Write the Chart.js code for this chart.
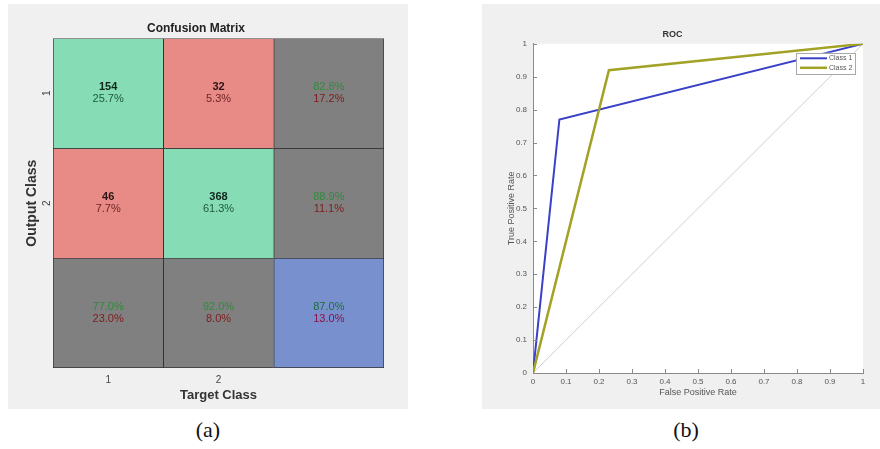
<!DOCTYPE html>
<html>
<head>
<meta charset="utf-8">
<script src="https://cdn.jsdelivr.net/npm/chart.js@4.4.1/dist/chart.umd.min.js"></script>
<style>
  html, body { margin: 0; padding: 0; background: #fff; width: 880px; height: 449px; overflow: hidden; }
  .panel { position: absolute; background: #f0f0f0; }
  #p1 { left: 8px; top: 4px; width: 400px; height: 405px; }
  #p2 { left: 482px; top: 4px; width: 398px; height: 405px; }
  canvas { display: block; }
  .cap { position: absolute; top: 417px; width: 60px; text-align: center; line-height: 26px;
         font-family: "Liberation Serif", "DejaVu Serif", serif; font-size: 22px; color: #111; }
</style>
</head>
<body>
<div class="panel" id="p1"><canvas id="cm" width="400" height="405"></canvas></div>
<div class="panel" id="p2"><canvas id="roc" width="398" height="405"></canvas></div>
<div class="cap" style="left:178px">(a)</div>
<div class="cap" style="left:656px">(b)</div>

<script>
// ---- Confusion matrix data ----
const targetClasses = ['1', '2'];          // columns
const outputClasses = ['1', '2'];          // rows
const counts = [                           // counts[output][target]
  [154, 32],
  [46, 368]
];

// ---- ROC data ----
const class1Fpr = [0, 0.08, 1];
const class1Tpr = [0, 0.77, 1];
const class2Fpr = [0, 0.23, 1];
const class2Tpr = [0, 0.92, 1];
const chanceLine = [0, 1];
const rocTicks = [0, 0.1, 0.2, 0.3, 0.4, 0.5, 0.6, 0.7, 0.8, 0.9, 1];
const rocTickLabels = ['0', '0.1', '0.2', '0.3', '0.4', '0.5', '0.6', '0.7', '0.8', '0.9', '1'];

const FONT = '"Liberation Sans", Arial, Helvetica, sans-serif';
Chart.defaults.font.family = FONT;

// ---------------- Confusion matrix ----------------
const n = targetClasses.length;
const total = counts.flat().reduce((a, b) => a + b, 0);
const rowSum = counts.map(r => r.reduce((a, b) => a + b, 0));
const colSum = targetClasses.map((_, c) => counts.reduce((a, r) => a + r[c], 0));
const correct = counts.reduce((a, r, i) => a + r[i], 0);
const pct = v => (v * 100).toFixed(1) + '%';

const GREEN = '#86dcb4', RED = '#e88b87', GREY = '#808080', BLUE = '#7890cd';

function cellColor(r, c) {
  if (r === n && c === n) return BLUE;
  if (r === n || c === n) return GREY;
  return r === c ? GREEN : RED;
}

// one stacked segment per row (output classes + summary row), each cell one unit tall
const cmDatasets = [];
for (let r = 0; r <= n; r++) {
  const colors = [];
  for (let c = 0; c <= n; c++) colors.push(cellColor(r, c));
  cmDatasets.push({
    data: new Array(n + 1).fill(1),
    backgroundColor: colors,
    borderColor: '#333333',
    borderSkipped: false,
    borderWidth: ctx => ({
      top: 1, left: 1,
      right: ctx.dataIndex === n ? 1 : 0,
      bottom: r === n ? 1 : 0
    }),
    categoryPercentage: 1,
    barPercentage: 1
  });
}

const cellText = {
  id: 'cellText',
  afterDatasetsDraw(chart) {
    const { ctx, scales: { x, y } } = chart;
    ctx.save();
    ctx.textAlign = 'center';
    ctx.textBaseline = 'middle';
    const two = (cx, cy, a, b, colA, colB, boldA) => {
      ctx.font = (boldA ? 'bold ' : '') + '11px ' + FONT;
      ctx.fillStyle = colA;
      ctx.fillText(a, cx, cy - 6);
      ctx.font = '11px ' + FONT;
      ctx.fillStyle = colB;
      ctx.fillText(b, cx, cy + 6);
    };
    for (let r = 0; r <= n; r++) {
      for (let c = 0; c <= n; c++) {
        const cx = x.getPixelForValue(c);
        const cy = y.getPixelForValue(r + 0.5);
        if (r < n && c < n) {
          const diag = r === c;
          two(cx, cy, String(counts[r][c]), pct(counts[r][c] / total),
              diag ? '#10261c' : '#2a1414', diag ? '#1f5a3c' : '#6e2424', true);
        } else {
          let ok;
          if (r < n) ok = counts[r][r] / rowSum[r];
          else if (c < n) ok = counts[c][c] / colSum[c];
          else ok = correct / total;
          const corner = r === n && c === n;
          two(cx, cy, pct(ok), pct(1 - ok),
              corner ? '#1f6e3a' : '#2f8a3a', corner ? '#8a1248' : '#7e1c1c', false);
        }
      }
    }
    ctx.restore();
  }
};

new Chart(document.getElementById('cm'), {
  type: 'bar',
  data: { labels: [...targetClasses, ''], datasets: cmDatasets },
  options: {
    responsive: false,
    animation: false,
    devicePixelRatio: 1,
    layout: { padding: { left: 0, right: 24, top: 0, bottom: 0 } },
    plugins: {
      legend: { display: false },
      tooltip: { enabled: false },
      title: {
        display: true, text: 'Confusion Matrix', color: '#222',
        font: { size: 12, weight: 'bold' }, padding: { top: 17, bottom: 3 }
      }
    },
    scales: {
      x: {
        stacked: true,
        grid: { display: false, drawTicks: false },
        border: { display: false },
        ticks: { color: '#444', font: { size: 10 }, padding: 6 },
        title: { display: true, text: 'Target Class', color: '#333',
                 font: { size: 13, weight: 'bold' }, padding: { top: 0, bottom: 6 } },
        afterFit: s => { s.height = 41; }
      },
      y: {
        stacked: true, min: 0, max: n + 1, reverse: true,
        grid: { display: false, drawTicks: false },
        border: { display: false },
        afterBuildTicks: s => { s.ticks = outputClasses.map((_, i) => ({ value: i + 0.5 })); },
        ticks: { color: '#444', font: { size: 10 }, padding: 3, minRotation: 90, maxRotation: 90,
                 crossAlign: 'center', callback: (v, i) => outputClasses[i] },
        title: { display: true, text: 'Output Class', color: '#333',
                 font: { size: 14, weight: 'bold' }, padding: { top: 16, bottom: 0 } },
        afterFit: s => { s.width = 45; }
      }
    }
  },
  plugins: [cellText]
});

// ---------------- ROC curve ----------------
const toPoints = (xs, ys) => xs.map((v, i) => ({ x: v, y: ys[i] }));

const plotBackground = {
  id: 'plotBackground',
  beforeDraw(chart) {
    const { ctx, chartArea: a } = chart;
    ctx.save();
    ctx.fillStyle = '#ffffff';
    ctx.fillRect(a.left, a.top, a.right - a.left, a.bottom - a.top);
    ctx.restore();
  }
};

const inwardTicks = {
  id: 'inwardTicks',
  afterDraw(chart) {
    const { ctx, scales: { x, y } } = chart;
    ctx.save();
    ctx.strokeStyle = '#8a8a8a';
    ctx.lineWidth = 1;
    ctx.beginPath();
    x.ticks.forEach(t => {
      const px = Math.round(x.getPixelForValue(t.value)) + 0.5;
      ctx.moveTo(px, y.bottom); ctx.lineTo(px, y.bottom - 4);
    });
    y.ticks.forEach(t => {
      const py = Math.round(y.getPixelForValue(t.value)) + 0.5;
      ctx.moveTo(x.left, py); ctx.lineTo(x.left + 4, py);
    });
    ctx.stroke();
    ctx.restore();
  }
};

const boxedLegend = {
  id: 'boxedLegend',
  afterDraw(chart) {
    const { ctx, chartArea: a } = chart;
    const items = chart.data.datasets.filter(d => d.label);
    const w = 59, rowH = 9.5, h = items.length * rowH + 2;
    const bx = a.right - 8 - w, by = a.top + 9;
    ctx.save();
    ctx.fillStyle = '#ffffff';
    ctx.fillRect(bx, by, w, h);
    ctx.strokeStyle = '#a8a8a8';
    ctx.lineWidth = 1;
    ctx.strokeRect(Math.round(bx) + 0.5, Math.round(by) + 0.5, w, h);
    ctx.font = '7px ' + FONT;
    ctx.textBaseline = 'middle';
    items.forEach((d, i) => {
      const ly = by + 5.5 + i * rowH;
      ctx.strokeStyle = d.borderColor;
      ctx.lineWidth = d.borderWidth;
      ctx.beginPath();
      ctx.moveTo(bx + 4, ly); ctx.lineTo(bx + 31, ly);
      ctx.stroke();
      ctx.fillStyle = '#555';
      ctx.fillText(d.label, bx + 33, ly);
    });
    ctx.restore();
  }
};

new Chart(document.getElementById('roc'), {
  type: 'scatter',
  data: {
    datasets: [
      { label: 'Class 1', data: toPoints(class1Fpr, class1Tpr), showLine: true,
        borderColor: '#3a40c8', borderWidth: 2, pointRadius: 0, order: 2 },
      { label: 'Class 2', data: toPoints(class2Fpr, class2Tpr), showLine: true,
        borderColor: '#a2a226', borderWidth: 2.5, pointRadius: 0, order: 1 },
      { data: toPoints(chanceLine, chanceLine), showLine: true,
        borderColor: '#cfcfcf', borderWidth: 1, pointRadius: 0, order: 3 }
    ]
  },
  options: {
    responsive: false,
    animation: false,
    devicePixelRatio: 1,
    layout: { padding: { left: 0, right: 17, top: 0, bottom: 0 } },
    plugins: {
      legend: { display: false },
      tooltip: { enabled: false },
      title: {
        display: true, text: 'ROC', color: '#333',
        font: { size: 9, weight: 'bold' }, padding: { top: 25, bottom: 4 }
      }
    },
    scales: {
      x: {
        type: 'linear', min: 0, max: 1,
        grid: { display: false, drawTicks: false },
        border: { display: true, color: '#8a8a8a', width: 1 },
        afterBuildTicks: s => { s.ticks = rocTicks.map(v => ({ value: v })); },
        ticks: { color: '#555', font: { size: 8 }, padding: 4,
                 maxRotation: 0, autoSkip: false, callback: (v, i) => rocTickLabels[i] },
        title: { display: true, text: 'False Positive Rate', color: '#555',
                 font: { size: 9 }, padding: { top: 0, bottom: 11 } },
        afterFit: s => { s.height = 36; }
      },
      y: {
        type: 'linear', min: 0, max: 1,
        grid: { display: false, drawTicks: false },
        border: { display: true, color: '#8a8a8a', width: 1 },
        afterBuildTicks: s => { s.ticks = rocTicks.map(v => ({ value: v })); },
        ticks: { color: '#555', font: { size: 8 }, padding: 6,
                 autoSkip: false, callback: (v, i) => rocTickLabels[i] },
        title: { display: true, text: 'True Positive Rate', color: '#555',
                 font: { size: 9 }, padding: { top: 24, bottom: 0 } },
        afterFit: s => { s.width = 51; }
      }
    }
  },
  plugins: [plotBackground, inwardTicks, boxedLegend]
});
</script>
</body>
</html>
